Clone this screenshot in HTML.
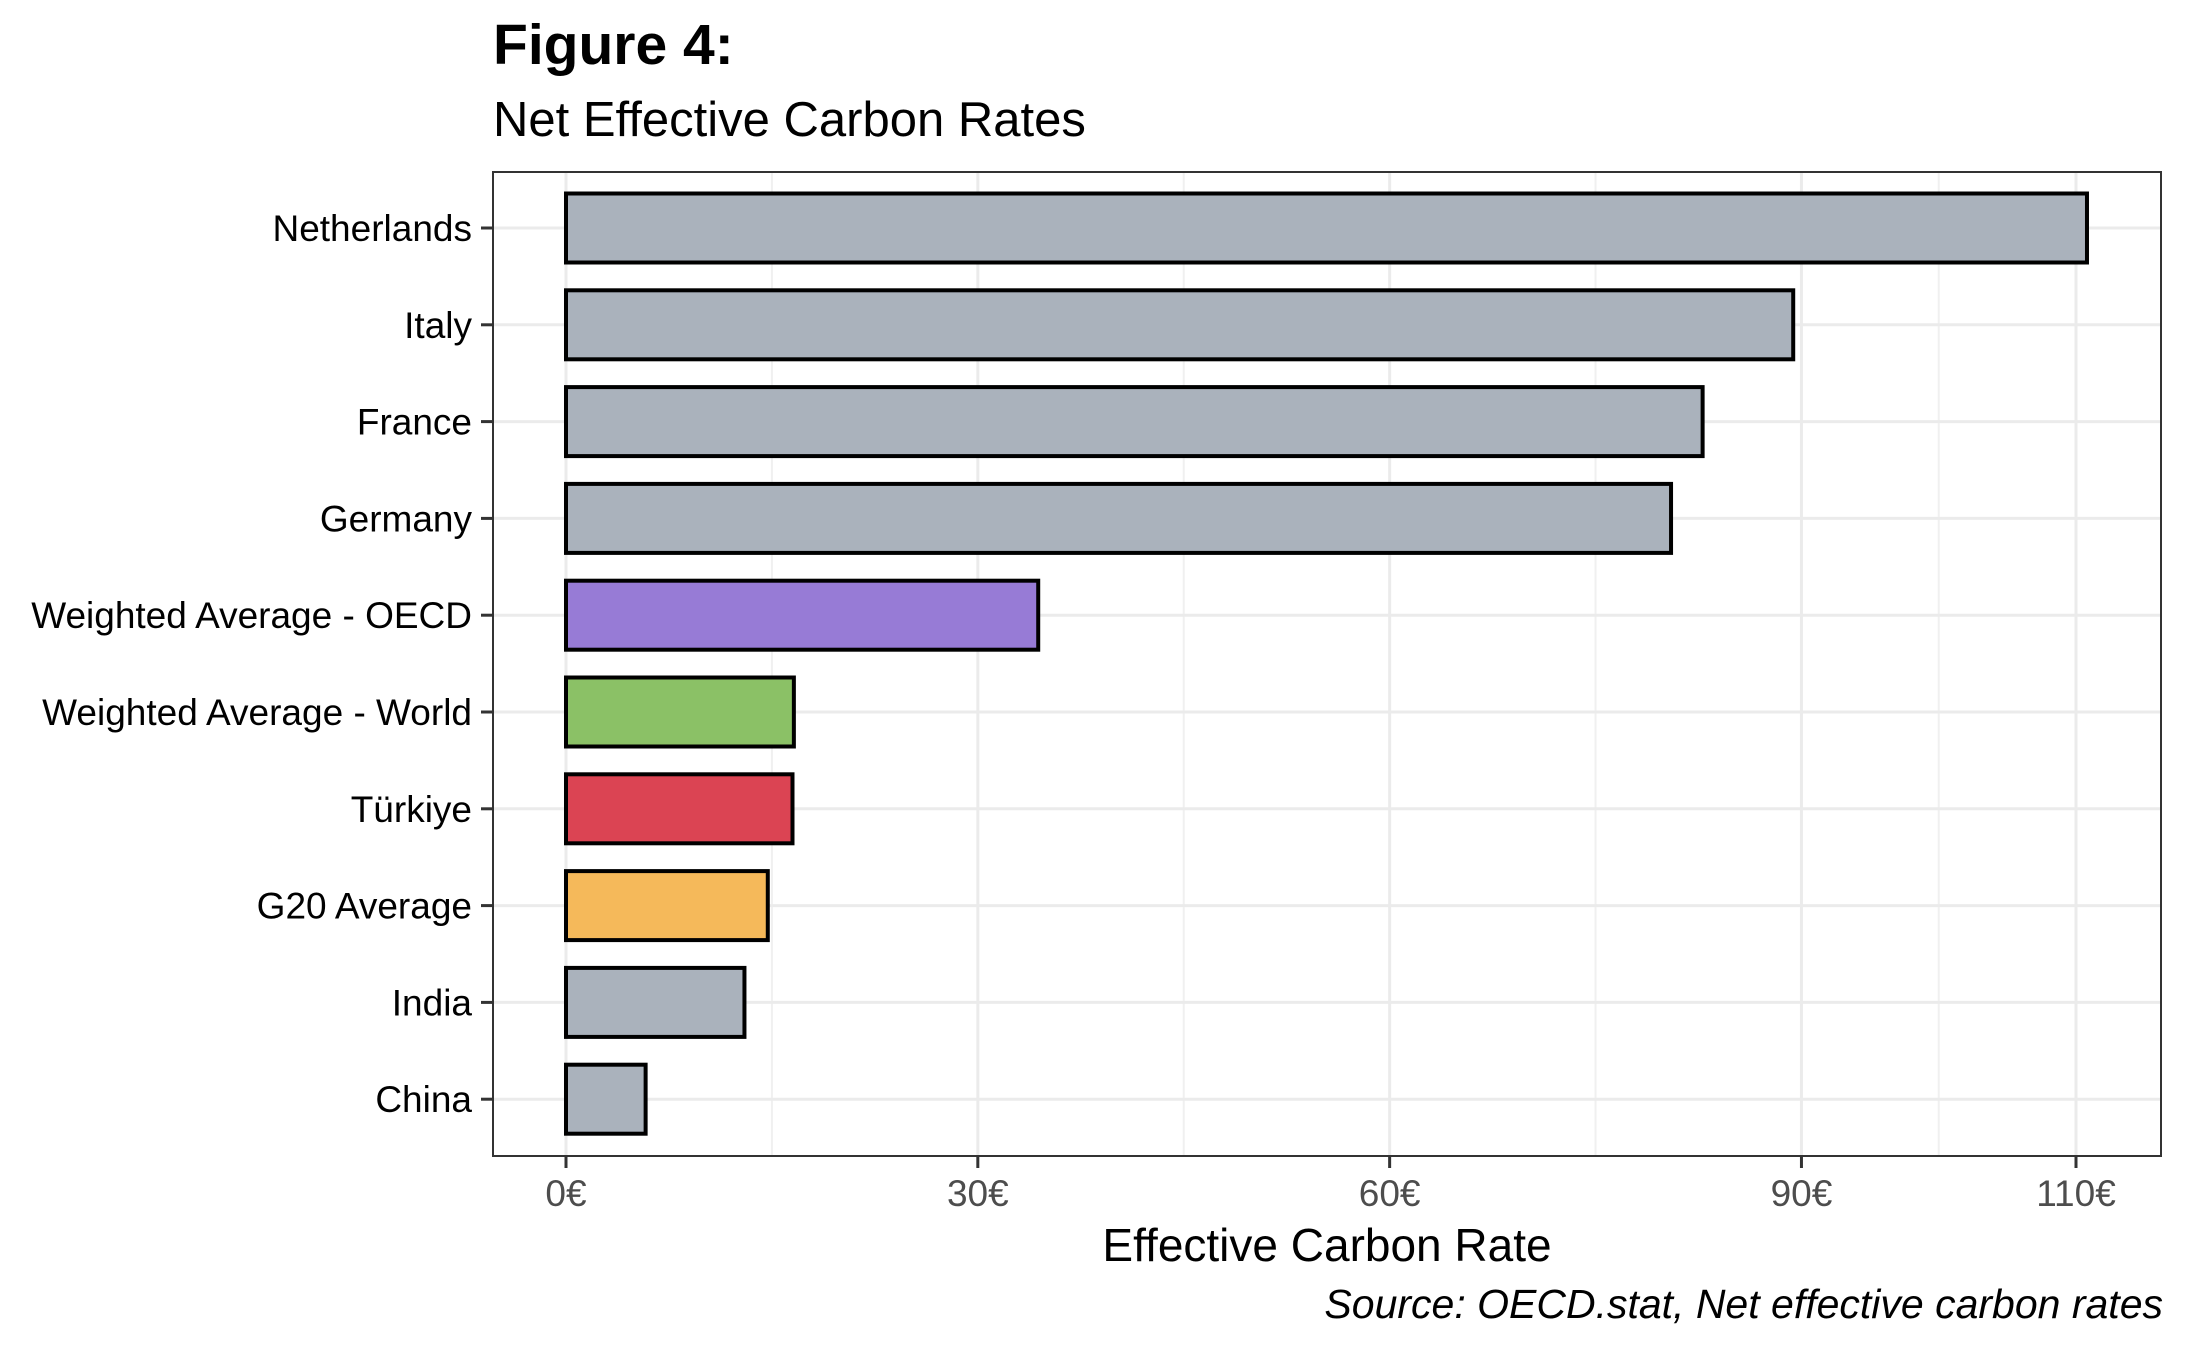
<!DOCTYPE html>
<html><head><meta charset="utf-8"><style>
html,body{margin:0;padding:0;background:#fff;}
svg{display:block;font-family:"Liberation Sans",Arial,sans-serif;}
</style></head><body>
<svg id="chart" width="2187" height="1351" viewBox="0 0 2187 1351">
<text x="493" y="64" font-size="57" font-weight="bold" fill="#000">Figure 4:</text>
<text x="493" y="136" font-size="49" fill="#000">Net Effective Carbon Rates</text>
<g id="grid"></g>
<g id="bars"></g>
<rect x="493" y="172" width="1668" height="984" fill="none" stroke="#333" stroke-width="2"/>
<g id="axes"></g>
<text x="1327" y="1261" font-size="46" text-anchor="middle" fill="#000">Effective Carbon Rate</text>
<text x="2163" y="1318" font-size="41" font-style="italic" text-anchor="end" fill="#000">Source: OECD.stat, Net effective carbon rates</text>
</svg>
<script>
const categories=["Netherlands","Italy","France","Germany","Weighted Average - OECD","Weighted Average - World","Türkiye","G20 Average","India","China"];
const values=[110.8,89.4,82.8,80.5,34.4,16.6,16.5,14.7,13.0,5.8];
const barColors=["#aab2bc","#aab2bc","#aab2bc","#aab2bc","#977bd6","#8bc166","#db4453","#f5b95a","#aab2bc","#aab2bc"];
const majorTicks=[0,30,60,90,110];
const tickLabels=["0€","30€","60€","90€","110€"];
const minorTicks=[15,45,75,100];
const NS="http://www.w3.org/2000/svg";
const PL=493,PR=2161,PT=172,PB=1156;
function xs(v){return 566+v*(2076-566)/110;}
function ys(i){return 228+i*96.8;}
function mk(t,a,p){const e=document.createElementNS(NS,t);for(const k in a)e.setAttribute(k,a[k]);p.appendChild(e);return e;}
const grid=document.getElementById('grid'),bars=document.getElementById('bars'),axes=document.getElementById('axes');
minorTicks.forEach(v=>{const l=mk('line',{x1:xs(v),x2:xs(v),y1:PT,y2:PB,stroke:'#f0f0f0','stroke-width':2},grid);

});
majorTicks.forEach((v,i)=>{const l=mk('line',{x1:xs(v),x2:xs(v),y1:PT,y2:PB,stroke:'#ebebeb','stroke-width':3},grid);


const t=mk('line',{x1:xs(v),x2:xs(v),y1:PB,y2:PB+12,stroke:'#333','stroke-width':3},axes);


const tx=mk('text',{x:xs(v),y:1206,'font-size':37,'text-anchor':'middle',fill:'#4d4d4d'},axes);tx.textContent=tickLabels[i];

});
categories.forEach((c,i)=>{const y=ys(i);
const g=mk('line',{x1:PL,x2:PR,y1:y,y2:y,stroke:'#ebebeb','stroke-width':3},grid);


const b=mk('rect',{x:xs(0),y:y-34.5,width:xs(values[i])-xs(0),height:69,fill:barColors[i],stroke:'#000','stroke-width':4},bars);


const t=mk('line',{x1:PL-12,x2:PL,y1:y,y2:y,stroke:'#333','stroke-width':3},axes);


const tx=mk('text',{x:472,y:y+13,'font-size':37,'text-anchor':'end',fill:'#000'},axes);tx.textContent=c;

});
</script>
</body></html>
